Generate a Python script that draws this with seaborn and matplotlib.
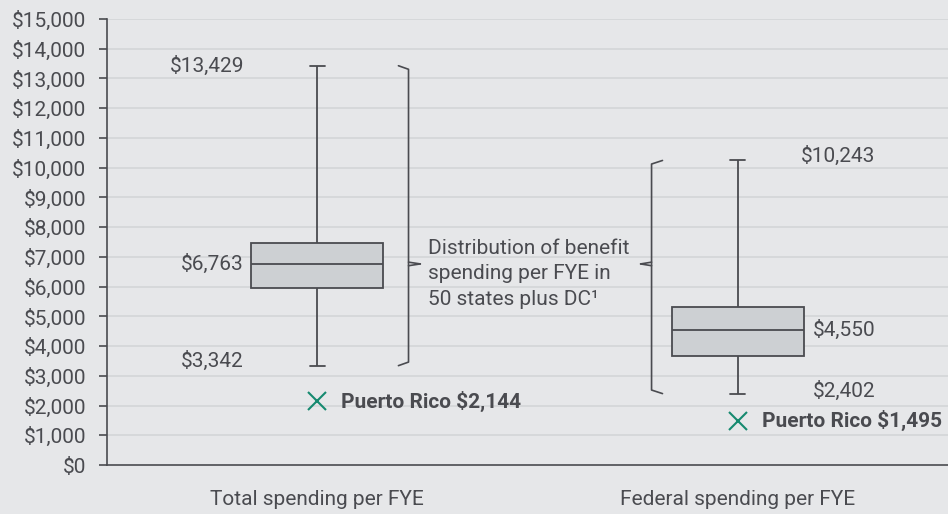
import numpy as np
import pandas as pd
import matplotlib
matplotlib.use("Agg")
import matplotlib.pyplot as plt
import seaborn as sns

# box plot summary values (min, q1, median, q3, max)
categories = ["Total spending per FYE", "Federal spending per FYE"]
whisker_low = [3342, 2402]
q1 = [5950, 3680]
median = [6763, 4550]
q3 = [7475, 5305]
whisker_high = [13429, 10243]
puerto_rico = [2144, 1495]

bg = "#e6e7e9"
ink = "#4a4b50"
grid = "#d3d5d8"
box_fill = "#cdd0d3"
teal = "#168a70"
fs = 15

# five points per group reproduce the quartiles exactly, whiskers span min..max
rows = []
for i, cat in enumerate(categories):
    for v in [whisker_low[i], q1[i], median[i], q3[i], whisker_high[i]]:
        rows.append({"measure": cat, "value": v})
df = pd.DataFrame(rows)

sns.set_theme(style="white")
plt.rcParams["font.family"] = ["Roboto", "DejaVu Sans"]
plt.rcParams["text.color"] = ink

fig = plt.figure(figsize=(9.48, 5.14), dpi=100, facecolor=bg)
ax = fig.add_axes([0.1129, 0.0953, 0.8871, 0.8677], facecolor=bg)

for y in range(1000, 16000, 1000):
    ax.axhline(y, color=grid, lw=1.2, zorder=0)

sns.boxplot(data=df, x="measure", y="value", order=categories, whis=(0, 100),
            width=0.315, saturation=1, color=box_fill, linecolor=ink,
            linewidth=1.3, showfliers=False, capwidths=0.035, ax=ax, zorder=3)

# Puerto Rico markers
for i, v in enumerate(puerto_rico):
    ax.plot(i, v, marker="x", ms=13, mew=1.5, color=teal, zorder=4)
    ax.text(i + 0.057, v, f"Puerto Rico ${v:,}", fontsize=fs, fontweight="bold",
            color=ink, va="center", ha="left")

# value labels
ax.text(-0.174, whisker_high[0], f"${whisker_high[0]:,}", ha="right", va="center", fontsize=fs)
ax.text(-0.174, median[0], f"${median[0]:,}", ha="right", va="center", fontsize=fs)
ax.text(-0.174, whisker_low[0] + 150, f"${whisker_low[0]:,}", ha="right", va="center", fontsize=fs)
ax.text(1 + 0.150, whisker_high[1] + 150, f"${whisker_high[1]:,}", ha="left", va="center", fontsize=fs)
ax.text(1 + 0.178, median[1], f"${median[1]:,}", ha="left", va="center", fontsize=fs)
ax.text(1 + 0.178, whisker_low[1] + 100, f"${whisker_low[1]:,}", ha="left", va="center", fontsize=fs)

# curly brackets around the whisker ranges
notch_y = median[0]
def bracket(x, lo, hi, stub, notch):
    ax.plot([x + stub, x, x, x + stub], [hi, hi - 120, lo + 120, lo], color=ink, lw=1.2,
            solid_joinstyle="round")
    ax.plot([x, x + notch], [notch_y + 60, notch_y], color=ink, lw=1.2)
    ax.plot([x, x + notch], [notch_y - 60, notch_y], color=ink, lw=1.2)

bracket(0.217, whisker_low[0], whisker_high[0], -0.024, 0.028)
bracket(1 - 0.205, whisker_low[1], whisker_high[1], 0.026, -0.026)

ax.text(0.263, 6430, "Distribution of benefit\nspending per FYE in\n50 states plus DC\u00b9",
        ha="left", va="center", fontsize=fs, linespacing=1.45)

ax.set_ylim(0, 15000)
ax.set_xlim(-0.5, 1.479)
ax.set_yticks(range(0, 16000, 1000))
ax.set_yticklabels([f"${v:,}" for v in range(0, 16000, 1000)])
ax.set_xticks(range(len(categories)))
ax.set_xticklabels(categories)
ax.set_xticks([-0.5, 0.5, 1.5], minor=True)
ax.tick_params(axis="x", which="major", length=0, pad=18, labelsize=fs, labelcolor=ink)
ax.tick_params(axis="x", which="minor", length=8, width=1.2, color=ink, direction="out")
ax.tick_params(axis="y", length=6, width=1.2, color=ink, pad=9, labelsize=fs,
               labelcolor=ink, left=True)
ax.set_xlabel("")
ax.set_ylabel("")
for s in ["top", "right"]:
    ax.spines[s].set_visible(False)
for s in ["left", "bottom"]:
    ax.spines[s].set_color(ink)
    ax.spines[s].set_linewidth(1.2)

fig.savefig("out.png", dpi=100, facecolor=bg)
